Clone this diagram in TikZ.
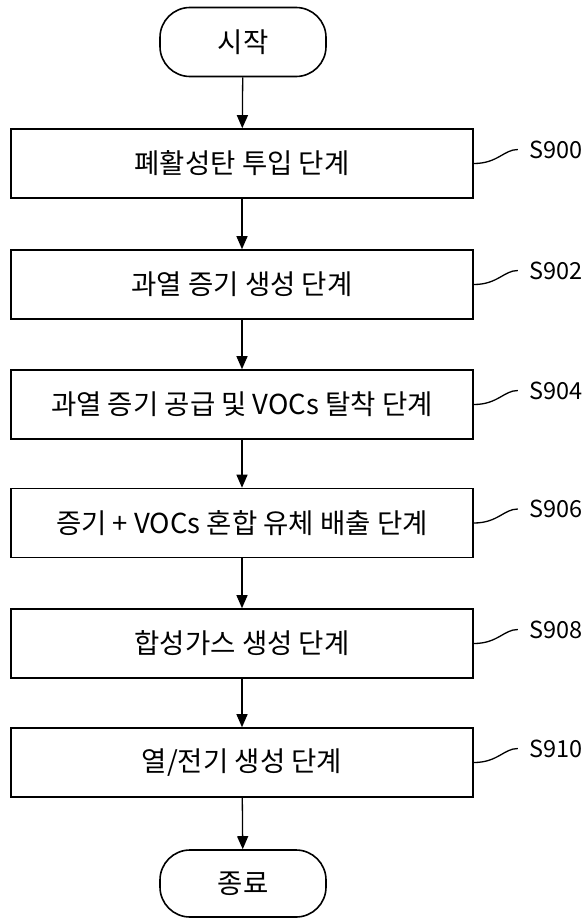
\documentclass[tikz,border=0pt]{standalone}
\usepackage{fontspec}
\setmainfont{Noto Sans CJK KR}
\usetikzlibrary{arrows.meta}
\begin{document}
\begin{tikzpicture}[x=1pt,y=-1pt,
  every node/.style={font=\fontsize{27.5}{31}\selectfont},
  stepbox/.style={draw,line width=1.6pt,minimum width=462pt,minimum height=69pt,inner sep=0pt},
  term/.style={draw,line width=1.6pt,minimum width=166pt,minimum height=69pt,rounded corners=30pt,inner sep=0pt},
  flow/.style={line width=1.3pt,-{Triangle[length=13pt,width=11pt]}},
  lab/.style={anchor=west,inner sep=0pt,font=\fontsize{23.5}{27}\selectfont},
  wave/.style={line width=1.3pt}]
\useasboundingbox (0,0) rectangle (584,918);
\node[term] (start) at (243,42) {시작};
\node[stepbox] (b1) at (242,163.5) {폐활성탄 투입 단계};
\node[stepbox] (b2) at (242,284.5) {과열 증기 생성 단계};
\node[stepbox] (b3) at (242,404.5) {과열 증기 공급 및 VOCs 탈착 단계};
\node[stepbox] (b4) at (242,523) {증기 + VOCs 혼합 유체 배출 단계};
\node[stepbox] (b5) at (242,643.5) {합성가스 생성 단계};
\node[stepbox] (b6) at (242,762.5) {열/전기 생성 단계};
\node[term,minimum height=67pt] (end) at (243,883.5) {종료};
\draw[flow] (start) -- (b1);
\draw[flow] (b1) -- (b2);
\draw[flow] (b2) -- (b3);
\draw[flow] (b3) -- (b4);
\draw[flow] (b4) -- (b5);
\draw[flow] (b5) -- (b6);
\draw[flow] (b6) -- (end);
\foreach \b/\t in {b1/S900,b2/S902,b3/S904,b4/S906,b5/S908,b6/S910}{
  \node[lab] (l\b) at ([xshift=55pt,yshift=14pt]\b.east) {\t};
  \coordinate (w\b) at ([xshift=-11pt]l\b.west);
  \draw[wave] (\b.east) .. controls ++(24,0) and ([xshift=-14pt]w\b) .. (w\b);
}
\end{tikzpicture}
\end{document}
